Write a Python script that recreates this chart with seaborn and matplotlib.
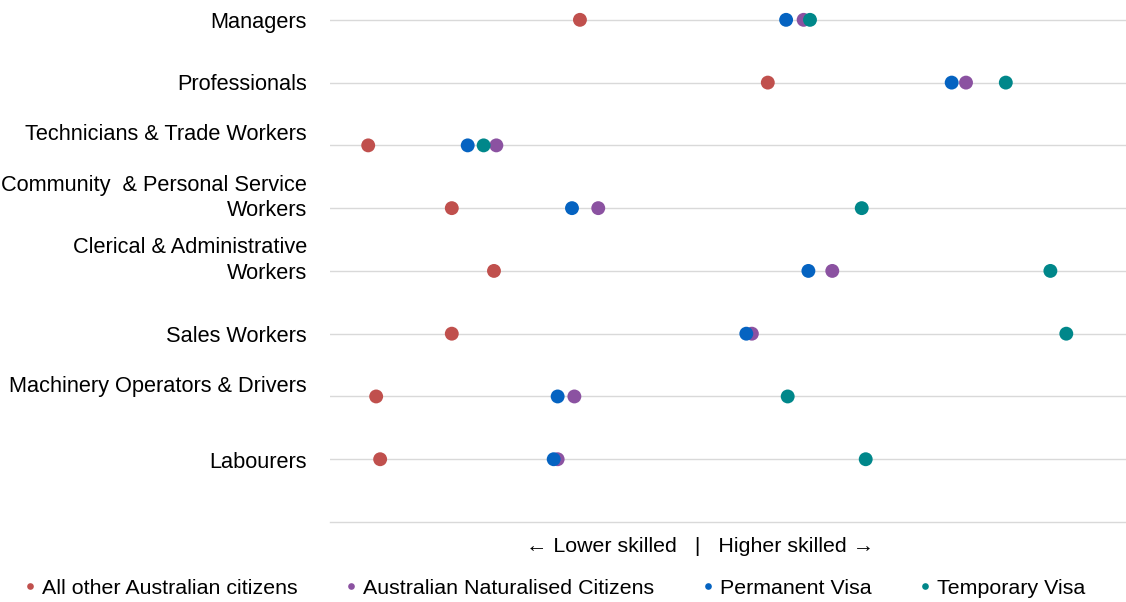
import pandas as pd
import matplotlib.pyplot as plt
import matplotlib.transforms as mtransforms
from matplotlib.lines import Line2D
import seaborn as sb

# occupation groups, top to bottom
categories = ['Managers', 'Professionals', 'Technicians & Trade Workers',
              'Community  & Personal Service\nWorkers',
              'Clerical & Administrative\nWorkers', 'Sales Workers',
              'Machinery Operators & Drivers', 'Labourers']

# relative skill position (0 = lower skilled, 100 = higher skilled)
other_citizens = [31.4, 55.0, 4.8, 15.3, 20.6, 15.3, 5.8, 6.3]
naturalised = [59.5, 79.9, 20.9, 33.7, 63.1, 53.0, 30.7, 28.6]
permanent_visa = [57.3, 78.1, 17.3, 30.4, 60.1, 52.3, 28.6, 28.1]
temporary_visa = [60.3, 84.9, 19.3, 66.8, 90.5, 92.5, 57.5, 67.3]

groups = ['All other Australian citizens', 'Australian Naturalised Citizens',
          'Permanent Visa', 'Temporary Visa']
colors = ['#C0504D', '#8B52A1', '#0563C1', '#00878A']

df = pd.DataFrame({
    'Occupation': categories * 4,
    'Group': sum([[g] * len(categories) for g in groups], []),
    'Skill': other_citizens + naturalised + permanent_visa + temporary_visa,
})

plt.rcParams['font.family'] = ['Liberation Sans', 'DejaVu Sans']
fs = 15.4

fig = plt.figure(figsize=(11.26, 6.02), dpi=100)
ax = fig.add_axes([330 / 1126, 80 / 602, 796 / 1126, 521 / 602])

# draw order: red, purple, blue, teal
sb.stripplot(data=df, x='Skill', y='Occupation', hue='Group', order=categories,
             hue_order=groups, palette=colors, jitter=False, dodge=False,
             size=10, linewidth=0, ax=ax, legend=False, zorder=3)

ax.set_xlim(0, 100)
ax.set_ylim(8, -0.3)
ax.set_xticks([])
ax.set_yticks(range(len(categories)))
ax.set_yticklabels(categories, fontsize=15.7, color='black', linespacing=1.3)
ax.tick_params(axis='y', length=0, pad=16.5)
ax.grid(axis='y', color='#D9D9D9', linewidth=1)
ax.set_axisbelow(True)
for s in ['top', 'left', 'right']:
    ax.spines[s].set_visible(False)
ax.spines['bottom'].set_color('#D9D9D9')
ax.spines['bottom'].set_linewidth(1)
ax.set_ylabel('')

# Excel puts some labels a little above their gridline
label_shift_px = [0, 1, 13, 15, 15, 0, 12, -1]
for lab, dy in zip(ax.get_yticklabels(), label_shift_px):
    lab.set_transform(lab.get_transform() +
                      mtransforms.ScaledTranslation(0, dy / 100, fig.dpi_scale_trans))

ax.set_xlabel('\u2190 Lower skilled   |   Higher skilled \u2192', fontsize=fs, color='black')
ax.xaxis.set_label_coords(0.465, -0.028)

handles = [Line2D([], [], marker='o', linestyle='', markersize=4.8,
                  markerfacecolor=c, markeredgewidth=0) for c in colors]
fig.legend(handles, groups, loc='center', bbox_to_anchor=(555 / 1126, 14 / 602),
           ncol=4, frameon=False, fontsize=fs, handlelength=0.5,
           handletextpad=0.32, columnspacing=2.25, borderpad=0, borderaxespad=0)

plt.savefig('out.png', dpi=100)
